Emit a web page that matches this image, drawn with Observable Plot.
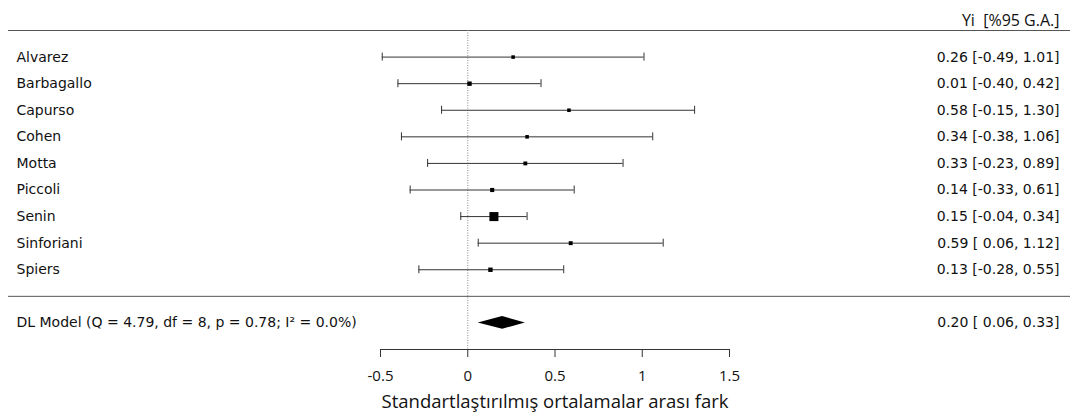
<!DOCTYPE html>
<html><head><meta charset="utf-8">
<script src="https://cdn.jsdelivr.net/npm/d3@7"></script>
<script src="https://cdn.jsdelivr.net/npm/@observablehq/plot@0.6"></script>
<style>body{margin:0;background:#fff} svg text{white-space:pre}</style>
</head><body><div id="chart"></div>
<script>
// ---- data ----
const studies = ["Alvarez","Barbagallo","Capurso","Cohen","Motta","Piccoli","Senin","Sinforiani","Spiers"];
const estimates = [0.26, 0.01, 0.58, 0.34, 0.33, 0.14, 0.15, 0.59, 0.13];
const lower = [-0.49, -0.40, -0.15, -0.38, -0.23, -0.33, -0.04, 0.06, -0.28];
const upper = [1.01, 0.42, 1.30, 1.06, 0.89, 0.61, 0.34, 1.12, 0.55];
const modelLabel = "DL Model (Q = 4.79, df = 8, p = 0.78; I² = 0.0%)";
const modelEstimate = [0.20];
const modelLower = [0.06];
const modelUpper = [0.33];
const xTicks = [-0.5, 0, 0.5, 1, 1.5];
const headerText = "Yi\u00a0\u00a0[%95 G.A.]";
const xLabel = "Standartlaştırılmış ortalamalar arası fark";

// ---- layout ----
const W = 1070, H = 414, ML = 380, MR = 341, MT = 30, MB = 65;
const topRow = -1, sepRow = studies.length, modelRow = studies.length + 1, axisRow = studies.length + 2;
const cap = 0.15, diamondHalf = 0.24;

const f2 = v => v.toFixed(2);
const fLow = v => (v >= 0 ? "\u00a0" : "") + f2(v);
const ciText = (e, l, u) => `${f2(e)} [${fLow(l)}, ${f2(u)}]`;

const rows = studies.map((s, i) => ({
  study: s, row: i, est: estimates[i], lo: lower[i], hi: upper[i],
  w: 1 / ((upper[i] - lower[i]) / 3.92) ** 2
}));
const model = [{label: modelLabel, row: modelRow, est: modelEstimate[0], lo: modelLower[0], hi: modelUpper[0]}];
const diamond = [
  {x: model[0].lo, y1: modelRow, y2: modelRow},
  {x: model[0].est, y1: modelRow - diamondHalf, y2: modelRow + diamondHalf},
  {x: model[0].hi, y1: modelRow, y2: modelRow}
];

const lineColor = "#555";
const font = "DejaVu Sans";
const labelSize = 14;

const chart = Plot.plot({
  width: W, height: H,
  marginLeft: ML, marginRight: MR, marginTop: MT, marginBottom: MB,
  style: {fontFamily: font, fontSize: "14px", background: "#fff", color: "#111"},
  x: {domain: [-0.5, 1.5]},
  y: {domain: [topRow, axisRow], reverse: true, axis: null},
  r: {type: "linear", domain: d3.extent(rows, d => d.w), range: [2, 5.1]},
  marks: [
    // horizontal separators
    Plot.ruleY([topRow, sepRow], {stroke: lineColor, insetLeft: -(ML - 8), insetRight: -MR}),
    // reference line at 0
    Plot.ruleX([0], {y1: topRow, y2: axisRow, stroke: "#888", strokeDasharray: "1,1.5"}),
    // CI lines and caps
    Plot.ruleY(rows, {y: "row", x1: "lo", x2: "hi", stroke: "#333"}),
    Plot.ruleX(rows, {x: "lo", y1: d => d.row - cap, y2: d => d.row + cap, stroke: "#333"}),
    Plot.ruleX(rows, {x: "hi", y1: d => d.row - cap, y2: d => d.row + cap, stroke: "#333"}),
    // point estimates
    Plot.dot(rows, {x: "est", y: "row", r: "w", symbol: "square", fill: "black", stroke: null}),
    // summary diamond
    Plot.areaY(diamond, {x: "x", y1: "y1", y2: "y2", fill: "black"}),
    // axis
    Plot.ruleY([axisRow], {stroke: "#333"}),
    Plot.axisX({ticks: xTicks, anchor: "bottom", tickSize: 8, tickPadding: 13, label: null,
      tickFormat: d => String(d), fontSize: 15, fontFamily: "Open Sans", stroke: "#333"}),
    Plot.text([xLabel], {frameAnchor: "bottom", dy: 58, lineAnchor: "bottom", fontSize: 18.5, fontFamily: "Open Sans"}),
    // left labels
    Plot.text(rows, {y: "row", text: "study", frameAnchor: "left", textAnchor: "start", dx: -(ML - 16), fontSize: labelSize}),
    Plot.text(model, {y: "row", text: "label", frameAnchor: "left", textAnchor: "start", dx: -(ML - 16), fontSize: labelSize}),
    // right column
    Plot.text(rows, {y: "row", text: d => ciText(d.est, d.lo, d.hi), frameAnchor: "right", textAnchor: "end", dx: MR - 11, fontSize: labelSize}),
    Plot.text(model, {y: "row", text: d => ciText(d.est, d.lo, d.hi), frameAnchor: "right", textAnchor: "end", dx: MR - 11, fontSize: labelSize}),
    Plot.text([headerText], {frameAnchor: "top-right", textAnchor: "end", dx: MR - 11, dy: -16, fontSize: 16, fontFamily: "Open Sans"})
  ]
});
document.getElementById("chart").appendChild(chart);
</script>
</body></html>
